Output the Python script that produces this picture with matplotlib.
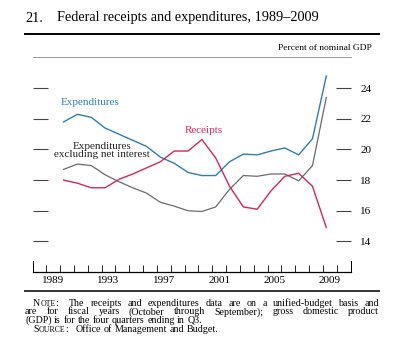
import matplotlib
matplotlib.use("Agg")
import matplotlib.pyplot as plt
from matplotlib.lines import Line2D

plt.rcParams["font.family"] = ["Liberation Serif", "DejaVu Serif"]

# fiscal years, percent of nominal GDP
years = list(range(1990, 2010))
expenditures = [21.8, 22.3, 22.1, 21.4, 21.0, 20.6, 20.2, 19.5, 19.1, 18.5,
                18.3, 18.3, 19.2, 19.7, 19.65, 19.9, 20.1, 19.65, 20.7, 24.8]
receipts = [18.0, 17.8, 17.5, 17.5, 18.05, 18.4, 18.8, 19.2, 19.9, 19.9,
            20.65, 19.45, 17.6, 16.25, 16.1, 17.3, 18.25, 18.45, 17.6, 14.9]
exp_ex_interest = [18.7, 19.05, 18.95, 18.35, 17.9, 17.5, 17.15, 16.55, 16.3, 16.0,
                   15.95, 16.25, 17.4, 18.3, 18.25, 18.4, 18.4, 17.95, 18.95, 23.4]
year_labels = ["1989", "1993", "1997", "2001", "2005", "2009"]
yticks = [14, 16, 18, 20, 22, 24]

BLUE = "#2e7db4"
RED = "#d5255a"
GRAY = "#6a6a6a"

W, H = 400, 356
fig = plt.figure(figsize=(4.0, 3.56), dpi=100)
ax = fig.add_axes([32.5 / W, 1 - 272 / H, 318 / W, 215.3 / H])

xs = [y + 0.25 for y in years]
ax.plot(xs, expenditures, color=BLUE, lw=1.0)
ax.plot(xs, exp_ex_interest, color=GRAY, lw=0.9)
ax.plot(xs, receipts, color=RED, lw=1.0)

ax.set_xlim(1988, 2011)
ax.set_ylim(12, 26.06)

# year boundary ticks, labels centred between them
ax.set_xticks(range(1988, 2012))
ax.set_xticklabels([])
ax.tick_params(axis="x", which="major", direction="in", length=5, width=0.7, color="#222222")
ax.set_xticks([int(s) + 0.5 for s in year_labels], year_labels, minor=True)
ax.tick_params(axis="x", which="minor", length=0, pad=3, labelsize=8)

ax.set_yticks(yticks)
ax.tick_params(axis="y", direction="in", length=10.5, width=0.8, color="#444444",
               left=True, right=True, labelleft=False, labelright=True,
               labelsize=8, pad=7)

for s in ["left", "right"]:
    ax.spines[s].set_bounds(12, 12.75)
    ax.spines[s].set_linewidth(0.7)
ax.spines["bottom"].set_linewidth(0.9)
ax.spines["top"].set_color("#888888")
ax.spines["top"].set_linewidth(0.6)

# series labels
ax.text(1990.05, 23.1, "Expenditures", color=BLUE, fontsize=8, va="center")
ax.text(1993.05, 19.93, "Expenditures\nexcluding net interest", color="#222222",
        fontsize=8, ha="center", va="center", linespacing=0.85)
ax.text(2000.4, 21.25, "Receipts", color=RED, fontsize=8, ha="center", va="center")

# title and rules
fig.text(25 / W, 1 - 18 / H, "21.", fontsize=10.3, va="center")
fig.text(57 / W, 1 - 18 / H, "Federal receipts and expenditures, 1989\u20132009",
         fontsize=10.3, va="center")
fig.add_artist(Line2D([25 / W, 379 / W], [1 - 34.3 / H] * 2, color="black", lw=1.4))
fig.text(372 / W, 1 - 48.5 / H, "Percent of nominal GDP", fontsize=6.8,
         ha="right", va="center")
fig.add_artist(Line2D([25 / W, 379 / W], [1 - 290.5 / H] * 2, color="#333333", lw=1.4))

# notes, justified lines
renderer = fig.canvas.get_renderer()
NS = 7.2
SC = 5.6


def word_width(runs):
    w = 0
    for s, size in runs:
        t = fig.text(0, 0, s, fontsize=size)
        w += t.get_window_extent(renderer).width
        t.remove()
    return w


def put_word(runs, x, y):
    for s, size in runs:
        t = fig.text(x / W, 1 - y / H, s, fontsize=size, va="baseline")
        x += t.get_window_extent(renderer).width
    return x


def put_line(words, x0, y, x1=None):
    words = [w if isinstance(w, list) else [(w, NS)] for w in words]
    widths = [word_width(w) for w in words]
    if x1 is None:
        gap = word_width([(" ", NS)])
    else:
        gap = (x1 - x0 - sum(widths)) / (len(words) - 1)
    x = x0
    for w, ww in zip(words, widths):
        put_word(w, x, y)
        x += ww + gap


note1 = "The receipts and expenditures data are on a unified-budget basis and"
note2 = "are for fiscal years (October through September); gross domestic product"
note3 = "(GDP) is for the four quarters ending in Q3."
source = "Office of Management and Budget."

put_line([[("N", NS), ("OTE", SC), (":", NS), ("  ", NS)]] + note1.split(), 33, 306, 379)
put_line(note2.split(), 25, 314.5, 379)
put_line(note3.split(), 25, 323)
put_line([[("S", NS), ("OURCE", SC), (":", NS), ("  ", NS)]] + source.split(), 33, 331.5)

fig.savefig("out.png", dpi=100)
